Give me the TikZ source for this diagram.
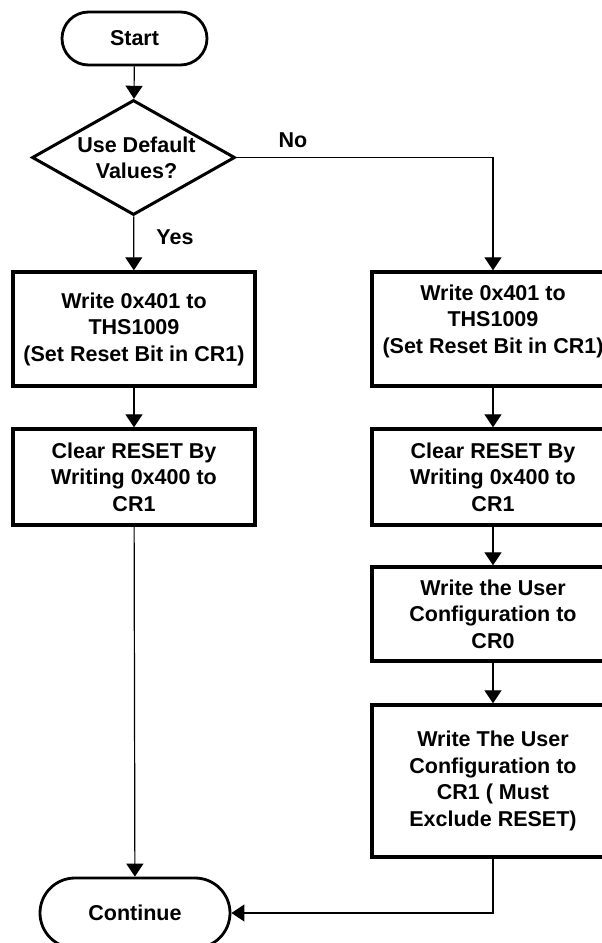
\documentclass[tikz,border=0pt]{standalone}
\usepackage{fontspec}
\setmainfont{Liberation Sans}
\usetikzlibrary{arrows.meta,shapes}

\begin{document}
\begin{tikzpicture}[
                    x=1pt, y=-1pt,
                    box style/.style={
                        rectangle,
                        draw,
                        line width=3.4pt,
                        fill=white,
                        align=center,
                        font=\bfseries\fontsize{21.5}{26.5}\selectfont,
                        inner sep=0pt,
                        minimum width=242pt
                    },
                    term style/.style={
                        rounded rectangle,
                        draw,
                        line width=2.8pt,
                        fill=white,
                        font=\bfseries\fontsize{21.5}{26.5}\selectfont,
                        inner sep=0pt
                    },
                    decision style/.style={
                        diamond,
                        draw,
                        line width=3pt,
                        fill=white,
                        align=center,
                        aspect=1.77,
                        font=\bfseries\fontsize{21.5}{26.5}\selectfont,
                        inner sep=0pt,
                        minimum width=203pt,
                        minimum height=115pt
                    },
                    label style/.style={font=\bfseries\fontsize{21.5}{26.5}\selectfont},
                    flow/.style={draw, line width=1.2pt, -{Triangle[width=17pt,length=13pt]}}
                ]
                    \useasboundingbox (0,0) rectangle (602,943);
                    % left branch
                    \node[term style, minimum width=145pt, minimum height=53pt] (start) at (134.5,38.5) {Start};
                    \node[decision style] (dflt) at (133.5,157.5) {\mbox{}\\[-10pt]\hspace{6pt}Use Default\\\hspace{6pt}Values?};
                    \node[box style, minimum height=114pt] (wrl) at (134,329) {Write 0x401 to\\THS1009\\(Set Reset Bit in CR1)};
                    \node[box style, minimum height=96pt] (clrl) at (134,477) {Clear RESET By\\Writing 0x400 to\\CR1};
                    \node[term style, minimum width=190pt, minimum height=70pt] (cont) at (135,913) {Continue};
                    % right branch
                    \node[box style, minimum height=114pt] (wrr) at (493,329) {Write 0x401 to\\THS1009\\(Set Reset Bit in CR1)\\[-6pt]\mbox{}};
                    \node[box style, minimum height=96pt] (clrr) at (493,477) {Clear RESET By\\Writing 0x400 to\\CR1};
                    \node[box style, minimum height=94pt] (cfg0) at (493,614) {Write the User\\Configuration to\\CR0};
                    \node[box style, minimum height=152pt] (cfg1) at (493,781) {Write The User\\Configuration to\\CR1 ( Must\\Exclude RESET)};
                    \node[label style] (yes) at (175,237) {Yes};
                    \node[label style] (no) at (293,140) {No};

                    \draw[flow] (start) -- (dflt);
                    \draw[flow] (dflt) -- (wrl);
                    \draw[flow] (wrl) -- (clrl);
                    \draw[flow] (clrl) -- (cont);
                    \draw[flow] (dflt.east) -| (wrr.north);
                    \draw[flow] (wrr) -- (clrr);
                    \draw[flow] (clrr) -- (cfg0);
                    \draw[flow] (cfg0) -- (cfg1);
                    \draw[flow] (cfg1.south) |- (cont.east);
                \end{tikzpicture}
\end{document}
